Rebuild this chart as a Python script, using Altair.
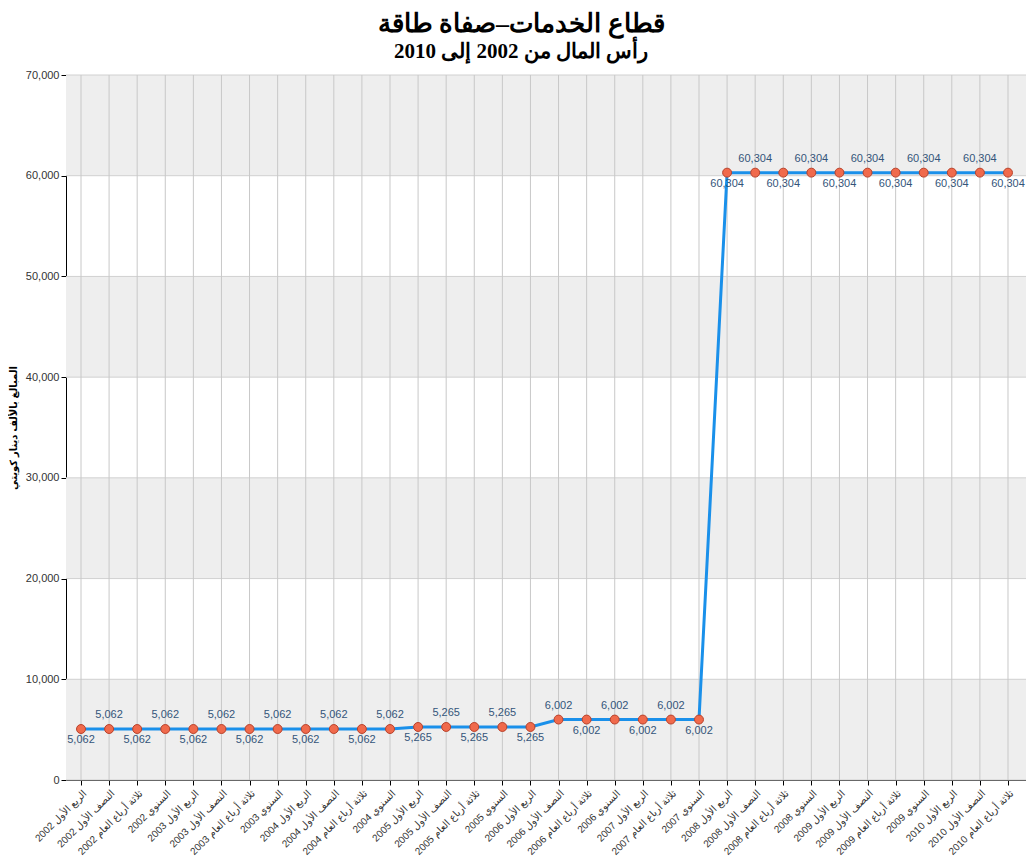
import altair as alt
import pandas as pd

categories = [
    "الربع الأول 2002", "النصف الأول 2002", "ثلاثة أرباع العام 2002", "السنوي 2002",
    "الربع الأول 2003", "النصف الأول 2003", "ثلاثة أرباع العام 2003", "السنوي 2003",
    "الربع الأول 2004", "النصف الأول 2004", "ثلاثة أرباع العام 2004", "السنوي 2004",
    "الربع الأول 2005", "النصف الأول 2005", "ثلاثة أرباع العام 2005", "السنوي 2005",
    "الربع الأول 2006", "النصف الأول 2006", "ثلاثة أرباع العام 2006", "السنوي 2006",
    "الربع الأول 2007", "ثلاثة أرباع العام 2007", "السنوي 2007",
    "الربع الأول 2008", "النصف الأول 2008", "ثلاثة أرباع العام 2008", "السنوي 2008",
    "الربع الأول 2009", "النصف الأول 2009", "ثلاثة أرباع العام 2009", "السنوي 2009",
    "الربع الأول 2010", "النصف الأول 2010", "ثلاثة أرباع العام 2010",
]

values = [
    5062, 5062, 5062, 5062,
    5062, 5062, 5062, 5062,
    5062, 5062, 5062, 5062,
    5265, 5265, 5265, 5265,
    5265, 6002, 6002, 6002,
    6002, 6002, 6002,
    60304, 60304, 60304, 60304,
    60304, 60304, 60304, 60304,
    60304, 60304, 60304,
]

y_ticks = [0, 10000, 20000, 30000, 40000, 50000, 60000, 70000]
band_start = [0, 20000, 40000, 60000]
band_end = [10000, 30000, 50000, 70000]

title_text = "قطاع الخدمات–صفاة طاقة"
subtitle_text = "رأس المال من 2002 إلى 2010"
y_title = "المبالغ بالألف دينار كويتي"

W, H = 960, 705
n = len(categories)

# label placement alternates; the pattern flips after the jump
pos = []
for i in range(n):
    if i < 23:
        pos.append("below" if i % 2 == 0 else "above")
    else:
        pos.append("below" if i % 2 == 1 else "above")

df = pd.DataFrame({"i": list(range(n)), "period": categories, "value": values, "pos": pos})
bands = pd.DataFrame({"value": band_start, "value_end": band_end})
grid_y = pd.DataFrame({"value": y_ticks})

# category positions: evenly spaced, about half a step of margin at each end
xscale = alt.Scale(domain=[-0.534, n - 1 + 0.641], nice=False, zero=False)
yscale = alt.Scale(domain=[0, 70000], nice=False, zero=True)

label_font = "Liberation Sans, DejaVu Sans, sans-serif"
cat_array = "[" + ",".join("'" + c + "'" for c in categories) + "]"

x_axis = alt.Axis(
    title=None,
    values=list(range(n)),
    labelExpr=cat_array + "[datum.value]",
    labelAngle=-45,
    labelAlign="right",
    labelBaseline="top",
    labelFont=label_font,
    labelFontSize=10,
    labelColor="#333333",
    labelPadding=3,
    labelOverlap=False,
    labelFlush=False,
    grid=False,
    domainColor="#000000",
    tickColor="#000000",
    tickSize=5,
    labelLimit=200,
)
y_axis = alt.Axis(
    title=y_title,
    titleFont=label_font,
    titleFontSize=10,
    titleFontWeight="bold",
    titleColor="#000000",
    titlePadding=7,
    values=y_ticks,
    labelExpr="format(datum.value, ',')",
    labelFont=label_font,
    labelFontSize=11,
    labelColor="#333333",
    grid=False,
    domainColor="#000000",
    tickColor="#000000",
    tickSize=5,
)

X = alt.X("i:Q", scale=xscale, axis=x_axis)
Y = alt.Y("value:Q", scale=yscale, axis=y_axis)

band_layer = alt.Chart(bands).mark_rect(color="#eeeeee").encode(
    x=alt.value(0),
    x2=alt.value(W),
    y=Y,
    y2="value_end:Q",
)

hgrid = alt.Chart(grid_y).mark_rule(color="#d0d0d0", strokeWidth=1).encode(
    x=alt.value(0),
    x2=alt.value(W),
    y=Y,
)

vgrid = alt.Chart(df).mark_rule(color="#c8c8c8", strokeWidth=1).encode(
    x=X,
    y=alt.value(0),
    y2=alt.value(H),
)

line = alt.Chart(df).mark_line(color="#1a90ea", strokeWidth=3).encode(
    x=X,
    y=Y,
    order=alt.Order("i:Q"),
)

points = alt.Chart(df).mark_point(
    filled=True, fill="#f06a4c", stroke="#b8412a", strokeWidth=1, size=80, opacity=1
).encode(x=X, y=Y)

above = alt.Chart(df).transform_filter(alt.datum.pos == "above").mark_text(
    dy=-14, font=label_font, fontSize=11, color="#34557a"
).encode(x=X, y=Y, text=alt.Text("value:Q", format=","))

below = alt.Chart(df).transform_filter(alt.datum.pos == "below").mark_text(
    dy=11, font=label_font, fontSize=11, color="#34557a"
).encode(x=X, y=Y, text=alt.Text("value:Q", format=","))

chart = alt.layer(band_layer, hgrid, vgrid, line, points, above, below).properties(
    width=W,
    height=H,
    autosize=alt.AutoSizeParams(type="none"),
    padding={"left": 58, "top": 67, "right": 0, "bottom": 76},
    title=alt.TitleParams(
        text=title_text,
        subtitle=subtitle_text,
        font="Liberation Serif, DejaVu Serif, serif",
        fontSize=26,
        fontWeight="bold",
        color="#000000",
        subtitleFont="Liberation Serif, DejaVu Serif, serif",
        subtitleFontSize=21,
        subtitleFontWeight="bold",
        subtitleColor="#000000",
        subtitlePadding=4,
        anchor="middle",
        frame="group",
        dx=-25,
        offset=7,
    ),
).configure_view(stroke=None).configure(background="#ffffff")

chart.save("out.html", embed_options={"renderer": "svg", "actions": False})
